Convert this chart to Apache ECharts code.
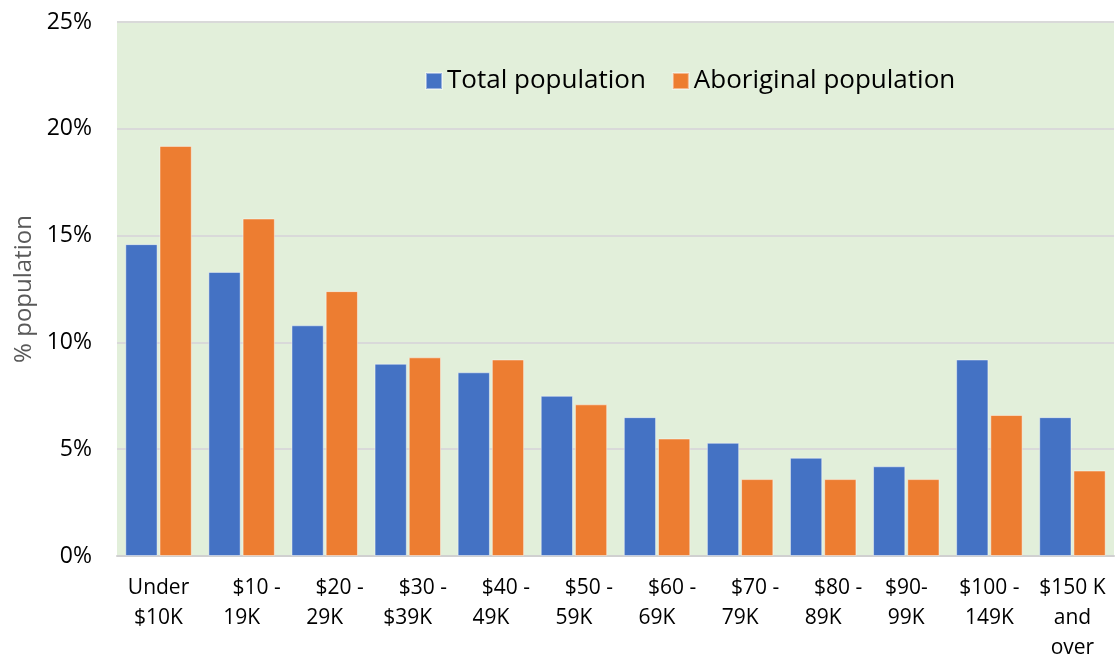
<!DOCTYPE html>
<html>
<head>
<meta charset="utf-8">
<title>Income distribution</title>
<script src="https://cdn.jsdelivr.net/npm/echarts@6/dist/echarts.min.js"></script>
<style>
  html, body { margin: 0; padding: 0; background: #fff; }
  #main { width: 1119px; height: 656px; }
</style>
</head>
<body>
<div id="main"></div>
<script>
// income brackets (line breaks as in the original axis)
var categories = ['Under\n$10K', '$10 -\n19K', '$20 -\n29K', '$30 -\n$39K', '$40 -\n49K', '$50 -\n59K',
                  '$60 -\n69K', '$70 -\n79K', '$80 -\n89K', '$90-\n99K', '$100 -\n149K', '$150 K\nand\nover'];
var totalPop = [14.6, 13.3, 10.8, 9.0, 8.6, 7.5, 6.5, 5.3, 4.6, 4.2, 9.2, 6.5];
var aboriginalPop = [19.2, 15.8, 12.4, 9.3, 9.2, 7.1, 5.5, 3.6, 3.6, 3.6, 6.6, 4.0];
var yTicks = [0, 5, 10, 15, 20, 25];

var font = 'Open Sans';
var myChart = echarts.init(document.getElementById('main'));

var option = {
  backgroundColor: '#ffffff',
  grid: {
    left: 117, right: 5, top: 22, bottom: 100,
    containLabel: false,
    outerBoundsMode: 'none',
    show: true,
    backgroundColor: '#E2EFDA',
    borderWidth: 0
  },
  legend: {
    data: ['Total population', 'Aboriginal population'],
    left: 420,
    top: 63,
    itemWidth: 16,
    itemHeight: 16,
    itemGap: 26,
    icon: 'rect',
    textStyle: { fontFamily: font, fontSize: 26, color: '#000' }
  },
  xAxis: {
    type: 'category',
    data: categories,
    axisLine: { show: true, lineStyle: { color: '#d0d0d0', width: 2 } },
    axisTick: { show: false },
    axisLabel: {
      interval: 0,
      margin: 17,
      fontFamily: font,
      fontSize: 21,
      lineHeight: 30,
      color: '#000',
      formatter: function (value, idx) {
        // the middle brackets have their first line pushed right
        if (idx >= 1 && idx <= 8) {
          var parts = value.split('\n');
          return '{ind|' + parts[0] + '}\n' + parts[1];
        }
        return value;
      },
      rich: {
        ind: { fontFamily: font, fontSize: 21, lineHeight: 30, color: '#000', padding: [0, 0, 0, 30] }
      }
    }
  },
  yAxis: {
    type: 'value',
    min: yTicks[0],
    max: yTicks[yTicks.length - 1],
    interval: 5,
    name: '% population',
    nameLocation: 'middle',
    nameRotate: 90,
    nameGap: 76,
    nameTextStyle: { fontFamily: font, fontSize: 24, color: '#595959' },
    axisLine: { show: false },
    axisTick: { show: false },
    axisLabel: {
      margin: 25,
      fontFamily: font,
      fontSize: 23,
      color: '#000',
      formatter: '{value}%'
    },
    splitLine: { show: true, lineStyle: { color: '#d9d9d9', width: 2 } }
  },
  series: [
    {
      name: 'Total population',
      type: 'bar',
      data: totalPop,
      barGap: '6%',
      barCategoryGap: '20%',
      itemStyle: { color: '#4472C4', borderColor: 'rgba(255,255,255,0.45)', borderWidth: 1 }
    },
    {
      name: 'Aboriginal population',
      type: 'bar',
      data: aboriginalPop,
      itemStyle: { color: '#ED7D31', borderColor: 'rgba(255,255,255,0.45)', borderWidth: 1 }
    }
  ]
};

myChart.setOption(option);
</script>
</body>
</html>
